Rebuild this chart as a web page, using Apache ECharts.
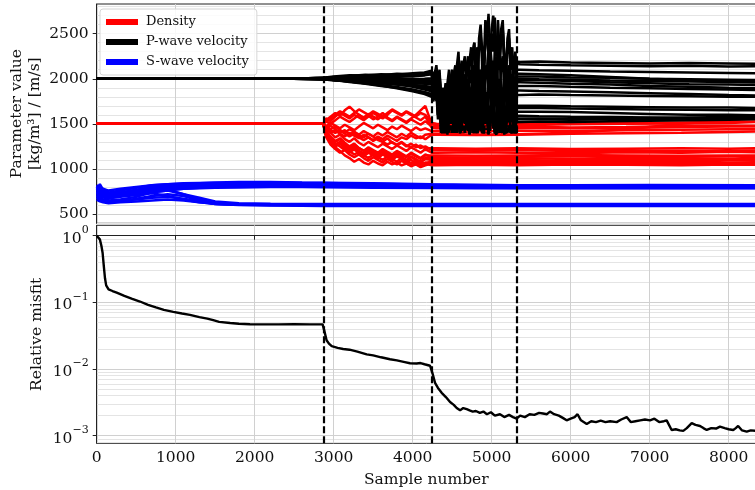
<!DOCTYPE html>
<html><head><meta charset="utf-8">
<script src="https://cdn.jsdelivr.net/npm/echarts@6/dist/echarts.min.js"></script>
<style>html,body{margin:0;padding:0;background:#fff}#c{width:755px;height:490px}</style>
</head><body><div id="c"></div>
<script>
const FONT = '"DejaVu Serif", serif';

// ---- sample positions ----
const rhoX = [0, 2868, 2900, 2960, 3020, 3080, 3140, 3200, 3260, 3320, 3380, 3440, 3500, 3560, 3620, 3680, 3740, 3800, 3860, 3920, 3980, 4040, 4100, 4160, 4240, 4300, 4800, 5320, 6000, 6700, 7400, 8000, 8350];
const vpX = [0, 2490, 2868, 3000, 3200, 3400, 3600, 3800, 4000, 4150, 4240, 4280, 4320, 4360, 4400, 4440, 4480, 4520, 4560, 4600, 4640, 4680, 4720, 4760, 4800, 4840, 4880, 4920, 4960, 5000, 5040, 5080, 5120, 5160, 5200, 5240, 5280, 5320, 5360, 5600, 6000, 6500, 7000, 7500, 8000, 8350];
const vpExtraX = [4260, 4300, 4340, 4380, 4420, 4460, 4500, 4540, 4580, 4620, 4660, 4700, 4740, 4780, 4820, 4860, 4900, 4940, 4980, 5020, 5060, 5100, 5140, 5180, 5220, 5260, 5300];
const vsX = [0, 40, 80, 150, 300, 500, 700, 900, 1100, 1300, 1500, 1800, 2200, 2600, 2868, 3500, 4240, 4800, 5320, 6000, 7000, 8350];

// ---- density chains [kg/m3] ----
const rhoChains = [
 [1500, 1500,1420,1330,1280,1250,1210,1180,1220,1170,1140,1180,1150,1120,1160,1130,1110,1150,1120,1090,1130,1100,1070,1110,1100, 1100,1095,1100,1090,1100,1105,1095,1100],
 [1500, 1500,1460,1400,1350,1380,1330,1300,1340,1290,1260,1300,1270,1240,1280,1250,1220,1260,1230,1200,1240,1210,1180,1220,1180, 1180,1185,1180,1175,1185,1180,1190,1185],
 [1500, 1500,1540,1580,1620,1590,1650,1690,1640,1600,1560,1590,1550,1580,1620,1570,1540,1580,1550,1520,1560,1600,1650,1700,1500, 1480,1490,1485,1495,1500,1505,1510,1520],
 [1500, 1500,1390,1300,1240,1200,1150,1120,1080,1110,1070,1050,1090,1060,1040,1080,1050,1070,1040,1060,1030,1050,1020,1040,1060, 1060,1055,1065,1060,1055,1060,1050,1055],
 [1500, 1500,1450,1480,1440,1400,1430,1380,1410,1370,1350,1390,1360,1320,1300,1340,1290,1270,1300,1260,1240,1270,1230,1250,1210, 1210,1205,1210,1200,1205,1195,1200,1205],
 [1500, 1500,1410,1360,1310,1340,1290,1250,1280,1230,1200,1240,1210,1180,1220,1190,1160,1200,1170,1140,1180,1150,1120,1160,1130, 1130,1125,1135,1140,1130,1135,1140,1130],
 [1500, 1500,1560,1530,1580,1620,1590,1560,1600,1570,1540,1580,1620,1590,1560,1600,1650,1620,1590,1630,1600,1570,1540,1580,1460, 1450,1455,1460,1450,1455,1465,1470,1470],
 [1500, 1500,1380,1290,1250,1280,1230,1200,1160,1190,1150,1120,1160,1130,1100,1140,1110,1080,1120,1090,1060,1100,1070,1050,1090, 1090,1080,1085,1075,1080,1085,1070,1075],
 [1500, 1500,1470,1510,1480,1450,1490,1460,1430,1470,1510,1480,1450,1490,1460,1430,1470,1440,1480,1450,1420,1460,1430,1450,1420, 1420,1415,1425,1420,1430,1435,1440,1440],
 [1500, 1500,1530,1500,1540,1580,1550,1520,1560,1600,1570,1610,1580,1550,1590,1560,1530,1570,1540,1510,1550,1520,1490,1530,1470, 1470,1465,1470,1460,1465,1475,1480,1480],
 [1500, 1500,1480,1440,1470,1430,1400,1440,1410,1380,1420,1390,1360,1400,1370,1410,1380,1350,1390,1360,1400,1370,1340,1380,1390, 1390,1380,1385,1400,1440,1500,1540,1560],
 [1500, 1500,1400,1320,1270,1300,1260,1220,1250,1200,1170,1210,1180,1140,1170,1130,1100,1140,1110,1070,1100,1060,1030,1060,1040, 1040,1045,1040,1050,1045,1040,1050,1045],
 [1500, 1500,1430,1350,1300,1330,1280,1240,1270,1230,1200,1230,1190,1160,1200,1170,1140,1180,1150,1130,1170,1140,1110,1150,1150, 1150,1145,1150,1155,1150,1145,1150,1150],
 [1500, 1500,1520,1560,1600,1640,1610,1580,1620,1660,1630,1600,1640,1610,1580,1620,1660,1630,1600,1640,1610,1580,1620,1600,1510, 1500,1495,1500,1505,1510,1515,1520,1525],
 [1500, 1500,1470,1430,1400,1430,1390,1360,1390,1350,1320,1350,1310,1340,1300,1270,1300,1260,1290,1250,1280,1240,1260,1230,1230, 1230,1225,1230,1220,1225,1230,1225,1230],
 [1500, 1500,1360,1270,1220,1180,1210,1160,1130,1160,1120,1090,1130,1100,1070,1110,1080,1050,1090,1060,1040,1080,1050,1070,1070, 1070,1065,1070,1075,1070,1065,1060,1065],
 [1500, 1500,1450,1400,1430,1390,1360,1400,1370,1340,1380,1350,1320,1360,1330,1370,1340,1310,1350,1330,1370,1340,1360,1330,1380, 1380,1375,1380,1390,1395,1400,1410,1415],
 [1500, 1500,1390,1310,1260,1290,1240,1210,1240,1190,1160,1200,1170,1140,1180,1150,1120,1160,1130,1100,1140,1110,1080,1120,1120, 1120,1115,1120,1110,1115,1120,1110,1115]
];

// ---- P-wave velocity chains [m/s] (on vpX) ----
const vpChains = [
 [2000,2000, 2010,2025,2040,2035,2050,2045,2060,2070,2090, 2080,1900,1650,1800,1550,1900,1700,2000,1600,1850,2100,1800,2250,2050,2450,2300,2650,2720,2500,2680,2400,2550,2200,2350,2000,2250,2190, 2185,2190,2180,2175,2170,2175,2170,2165],
 [2000,2000, 2005,2020,2030,2045,2040,2055,2050,2065,2080, 2070,2000,1750,1500,1850,1650,1450,1800,2050,1700,1950,2200,1900,2100,2350,2150,2400,2250,2550,2400,2650,2450,2250,2450,2100,1900,2165, 2160,2155,2150,2145,2140,2145,2135,2140],
 [2000,2000, 2000,1990,1975,1960,1950,1935,1920,1900,1880, 1870,1750,1500,1400,1650,1850,1550,1420,1700,1950,1600,1450,1750,2000,1700,1500,1850,2100,1800,1550,1900,2150,1850,1600,1950,1750,2055, 2055,2050,2040,2020,2000,1985,1970,1960],
 [2000,2000, 1995,2010,2020,2015,2030,2020,2035,2040,2050, 2040,1850,1600,1750,1950,1700,2000,2150,1850,1600,1900,2100,2300,2000,1800,2200,2450,2250,2000,2350,2150,1850,2100,1800,1950,2200,2025, 2025,2025,2015,2010,2000,1995,1990,1985],
 [2000,2000, 2000,1985,1965,1945,1920,1900,1870,1850,1830, 1820,1600,1400,1550,1750,1450,1380,1650,1500,1800,1550,1400,1700,1900,1600,1420,1750,1550,1850,2050,1700,1500,1800,1600,1400,1750,1990, 1990,1985,1975,1960,1950,1940,1935,1930],
 [2000,2000, 2010,2000,1990,1985,1980,1970,1960,1955,1950, 1940,1700,1550,1850,1650,1420,1700,1950,1750,1500,1400,1650,1850,1550,1800,2000,1750,1500,1700,1950,1650,1450,1700,1900,1650,1500,1960, 1960,1955,1945,1935,1920,1910,1900,1895],
 [2000,2000, 1990,1995,1985,1990,1975,1980,1970,1965,1960, 1950,1900,1700,1450,1600,1850,2050,1800,1550,1400,1700,1500,1900,2100,1850,1650,1450,1700,2000,1800,1550,1750,2000,1700,1450,1650,1920, 1920,1920,1910,1900,1895,1885,1880,1875],
 [2000,2000, 2000,1990,1970,1950,1925,1895,1860,1830,1800, 1780,1550,1380,1450,1650,1400,1600,1850,1550,1380,1500,1750,1450,1650,1900,1600,1400,1550,1800,1500,1380,1650,1450,1700,1500,1380,1820, 1820,1825,1820,1815,1810,1805,1800,1800],
 [2000,2000, 2005,2015,2010,2025,2015,2030,2025,2040,2060, 2050,1950,1800,1600,1450,1700,1500,1400,1650,1900,1700,1800,1550,1420,1650,1850,2050,1800,1600,1400,1550,1800,1600,1400,1550,1750,1675, 1675,1675,1670,1665,1660,1655,1650,1650],
 [2000,2000, 1995,1980,1975,1960,1955,1940,1930,1920,1910, 1900,1650,1450,1700,1900,1600,1800,1550,1400,1600,1850,1650,1450,1700,1500,1380,1600,1400,1650,1900,1600,1420,1650,1850,1600,1400,1635, 1635,1635,1630,1620,1610,1600,1600,1595],
 [2000,2000, 2000,2005,2000,2010,2000,2005,1995,2000,2005, 2000,1800,1550,1400,1600,1500,1750,1950,1700,1500,1650,1400,1550,1800,2000,1750,1550,1400,1600,1450,1700,1500,1380,1550,1750,1450,1590, 1590,1585,1580,1575,1570,1565,1560,1560],
 [2000,2000, 2010,2000,1985,1970,1960,1940,1910,1880,1860, 1850,1700,1450,1380,1550,1750,1500,1650,1400,1550,1800,1600,1400,1500,1700,1450,1600,1850,1550,1380,1500,1700,1450,1600,1400,1500,1550, 1550,1550,1545,1550,1555,1560,1565,1565],
 [2000,2000, 2000,2010,2025,2030,2040,2040,2050,2060,2075, 2060,1950,1700,1500,1750,2000,1800,1550,1900,2150,1850,1600,2000,2250,1950,1700,2100,2350,2050,1800,2200,2450,2100,1850,2250,2000,2100, 2100,2095,2090,2080,2075,2070,2065,2060],
 [2000,2000, 2000,1995,1985,1970,1955,1945,1930,1915,1900, 1890,1700,1450,1600,1400,1650,1900,1600,1400,1700,1500,1380,1650,1850,1550,1400,1700,1950,1600,1450,1800,1550,1400,1650,1850,1550,1870, 1870,1865,1860,1850,1840,1830,1820,1815],
 [2000,2000, 2000,2005,1995,2000,1990,1995,1985,1990,1980, 1970,1800,1550,1420,1600,1850,1650,1450,1380,1600,1800,1550,1400,1650,1900,1700,1500,1380,1550,1750,1500,1400,1600,1800,1550,1420,1700, 1700,1700,1695,1690,1685,1680,1680,1675],
 [2000,2000, 2000,2015,2020,2030,2025,2035,2030,2045,2055, 2045,1850,1600,1450,1700,1500,1400,1650,1950,1700,1500,1800,2050,1750,1500,1900,2150,2350,2100,1800,1550,1700,1450,1650,1420,1600,1560, 1560,1560,1555,1560,1565,1570,1575,1580],
 [2000,2000, 2000,1990,1980,1975,1965,1960,1950,1945,1940, 1930,1750,1500,1400,1600,1800,2000,1750,1500,1850,2100,1800,1550,1400,1700,1950,1700,1500,1850,2150,1900,1600,1850,2050,1750,1500,2000, 2000,1995,1990,1980,1975,1970,1965,1960],
 [2000,2000, 2000,1985,1970,1950,1930,1910,1880,1850,1820, 1810,1600,1400,1550,1380,1600,1850,1550,1400,1650,1450,1380,1600,1400,1550,1800,1500,1380,1600,1420,1650,1450,1380,1550,1400,1450,1520, 1520,1525,1520,1530,1535,1540,1545,1550]
];
// extra P-wave samples in the unstable stage (on vpExtraX)
const vpExtraChains = [
 [2000,1750,2000,1500,1950,1420,2100,1550,2150,1450,1700,2250,1650,2400,1900,2600,2150,2450,2350,2300,2250,2200,2650,2050,2450,1850,2050],
 [1980,2100,2100,1900,1400,2000,1800,1400,1650,2200,1550,1800,2350,1750,1950,2500,2000,2550,2100,2700,2250,2300,2550,2100,2550,2250,1750],
 [1800,1900,1850,1650,1380,1500,1950,1700,1400,1550,2050,1750,1400,1600,2100,1850,1400,1700,2200,1950,1420,1750,2250,2000,1450,2050,1600],
 [1950,2100,1950,1450,1600,2100,1550,1850,2300,2000,1450,1750,1950,2400,2150,1650,2050,2550,2400,1850,2450,2300,1700,2250,1650,1800,2300],
 [1900,1950,1700,1380,1450,1850,1600,1380,1750,1420,1900,1650,1380,1550,2000,1700,1380,1850,1450,1700,2150,1800,1400,1900,1700,1380,1600],
 [1880,2000,1800,1450,1950,1750,1380,1600,2050,1850,1600,1380,1550,1950,1450,1700,2100,1850,1400,1600,2050,1750,1380,1600,2000,1750,1420],
 [2000,1800,2000,1800,1380,1500,1750,2150,1900,1650,1380,1800,1420,1800,2200,1950,1750,1380,1600,2100,1900,1450,1650,2100,1800,1380,1550],
 [1850,1850,1650,1550,1380,1750,1380,1500,1950,1650,1600,1420,1850,1380,1550,2000,1700,1650,1450,1900,1600,1380,1750,1400,1800,1600,1500],
 [1950,2100,2050,1900,1700,1380,1800,1600,1380,1550,2000,1600,1900,1650,1380,1550,1750,2150,1900,1700,1380,1450,1900,1700,1380,1450,1850],
 [1820,2000,1750,1380,1550,2000,1450,1900,1650,1380,1500,1950,1750,1380,1800,1600,1700,1750,1380,1550,2000,1700,1380,1550,1950,1700,1380],
 [2050,2100,1900,1650,1380,1700,1400,1650,2050,1800,1400,1750,1380,1450,1700,2100,1850,1650,1380,1700,1380,1800,1600,1650,1450,1850,1380],
 [1780,1950,1800,1600,1650,1420,1850,1400,1750,1380,1450,1900,1700,1380,1400,1800,1380,1500,1950,1650,1600,1400,1800,1380,1700,1600,1420],
 [1980,2150,2050,1850,1420,1650,2100,1950,1450,1800,2250,2000,1500,1900,2350,2100,1600,2000,2450,2200,1700,2100,2550,2250,1750,2350,1900],
 [1820,1980,1800,1380,1700,1380,1550,2000,1700,1380,1800,1600,1750,1550,1950,1650,1380,1600,2050,1700,1380,1900,1650,1380,1550,1950,1450],
 [1900,2050,1900,1650,1380,1500,1950,1750,1600,1700,1500,1900,1650,1380,1550,2000,1800,1600,1650,1450,1850,1600,1380,1500,1900,1650,1380],
 [1950,2100,1950,1700,1380,1800,1650,1380,1550,2050,1800,1420,1700,2150,1850,1420,1800,2050,2450,2200,1900,1450,1800,1380,1750,1380,1700],
 [1870,2000,1850,1650,1380,1500,1700,2100,1850,1420,1750,2200,1900,1650,1380,1600,2050,1800,1420,1750,2250,2000,1500,1750,2150,1850,1420],
 [1750,1900,1700,1380,1650,1700,1500,1950,1650,1380,1750,1550,1700,1700,1380,1450,1900,1600,1700,1700,1380,1750,1550,1650,1650,1380,1600]
];

// ---- S-wave velocity chains [m/s] ----
const vsChains = [
 [780,830,770,740,760,790,820,830,835,840,845,840,850,845,845,835,825,815,810,810,812,810],
 [720,690,660,650,660,690,740,760,720,660,620,610,605,600,600,600,602,600,600,601,600,600],
 [800,760,720,700,720,750,780,790,800,805,810,815,820,825,820,815,805,800,795,795,797,795],
 [760,800,780,760,780,800,820,830,840,845,850,855,855,850,848,840,830,825,820,820,822,820],
 [680,650,640,630,640,670,700,720,700,650,610,600,595,592,590,590,591,590,590,590,591,590],
 [740,710,690,680,700,720,740,760,780,790,800,810,815,820,818,812,808,806,805,805,806,805],
 [700,680,660,670,700,730,760,770,780,785,790,795,800,800,798,792,788,786,785,785,786,785],
 [780,760,720,700,720,760,790,770,720,680,640,620,615,612,610,610,610,610,610,611,610,610],
 [720,740,700,690,710,740,770,790,800,810,815,820,825,822,820,815,808,802,800,800,801,800],
 [810,780,740,720,740,770,800,810,820,830,835,840,840,838,836,830,822,818,815,815,816,815],
 [660,640,630,620,630,640,650,660,650,630,615,605,600,597,596,595,595,595,595,596,595,595],
 [820,790,750,730,740,760,780,785,790,795,800,805,810,812,810,805,798,793,790,790,791,790],
 [790,770,740,720,735,760,790,805,815,825,830,835,838,836,834,828,820,815,812,812,813,812],
 [750,720,690,680,690,710,730,700,660,630,615,608,606,605,605,605,606,605,605,605,606,605],
 [700,720,690,690,715,745,775,790,800,808,815,818,822,820,818,812,805,800,798,798,799,798],
 [760,740,710,700,720,750,780,795,805,815,825,830,835,835,832,825,815,810,808,808,809,808],
 [700,670,650,640,650,660,680,690,670,640,612,603,600,599,598,598,598,598,598,598,599,598],
 [770,750,720,710,725,750,775,785,792,798,803,808,812,812,810,803,795,790,788,788,789,788]
];

// ---- relative misfit ----
const misfitX = [0,20,40,60,75,90,105,120,150,200,253,350,450,548,650,750,850,970,1080,1180,1300,1400,1475,1550,1690,1800,1940,2100,2300,2500,2700,2860,2880,2910,2940,2975,3050,3120,3200,3300,3418,3500,3600,3713,3800,3900,3966,4050,4100,4150,4220,4250,4283,4320,4367,4420,4473,4520,4557,4600,4640,4684,4720,4760,4800,4850,4895,4940,4990,5040,5105,5160,5220,5270,5316,5360,5420,5480,5540,5600,5650,5700,5738,5790,5850,5900,5949,6000,6050,6087,6130,6203,6260,6320,6380,6440,6500,6582,6640,6709,6760,6820,6880,6940,7004,7060,7120,7180,7215,7278,7330,7380,7425,7470,7532,7580,7637,7680,7722,7780,7840,7890,7950,8000,8058,8090,8120,8170,8228,8280,8350];
const misfitY = [1.0,0.99,0.88,0.70,0.55,0.35,0.23,0.18,0.157,0.148,0.14,0.125,0.113,0.103,0.092,0.084,0.077,0.072,0.068,0.065,0.060,0.057,0.054,0.051,0.049,0.0478,0.047,0.0468,0.0468,0.047,0.0467,0.0467,0.038,0.027,0.024,0.022,0.0208,0.020,0.0195,0.0182,0.0166,0.0160,0.0150,0.0140,0.0135,0.0127,0.0122,0.0121,0.0123,0.0118,0.0112,0.0087,0.0062,0.0052,0.0044,0.0038,0.0032,0.0029,0.0026,0.0024,0.0026,0.0025,0.0024,0.0023,0.00235,0.0022,0.0023,0.0021,0.00225,0.0020,0.0021,0.0019,0.00205,0.0019,0.0018,0.0020,0.0019,0.0021,0.00205,0.0022,0.00215,0.0021,0.0023,0.0021,0.0020,0.00185,0.0017,0.0018,0.0019,0.0021,0.0017,0.0015,0.00165,0.0016,0.00168,0.0016,0.00165,0.0016,0.00175,0.0019,0.0016,0.00165,0.0017,0.00175,0.0017,0.0018,0.0016,0.00165,0.0017,0.00122,0.00125,0.0012,0.00118,0.0013,0.00154,0.00145,0.0014,0.0013,0.00122,0.0013,0.00128,0.00137,0.0013,0.00125,0.00122,0.0013,0.0014,0.0012,0.00115,0.0012,0.00118];

// ---- stage boundaries (dashed lines) ----
const stageBounds = [2868, 4240, 5322];

// ---- ticks ----
const topMajorTicks = [500, 1000, 1500, 2000, 2500];
const topMinorTicks = [400, 600, 700, 800, 900, 1100, 1200, 1300, 1400, 1600, 1700, 1800, 1900, 2100, 2200, 2300, 2400, 2600, 2700, 2800];
const misfitDecades = [0.001, 0.01, 0.1, 1];
const misfitMinorMultipliers = [2, 3, 4, 5, 6, 7, 8, 9];
const misfitMinorDecades = [0.0001, 0.001, 0.01, 0.1, 1];

const X_MAX = 8346;
const TOP_MIN = 397, TOP_MAX = 2829;
const LOG_MIN = -3.114, LOG_MAX = 0.156;

const decadeLog = misfitDecades.map(v => Math.round(Math.log10(v)));
const minorLog = [];
misfitMinorDecades.forEach(d => misfitMinorMultipliers.forEach(k => {
  const v = Math.log10(k * d);
  if (v > LOG_MIN && v < LOG_MAX) minorLog.push(v);
}));

const pairs = (xs, ys) => xs.map((x, i) => [x, ys[i]]);
const TXT = '#111';
const MAJ = '#d0d0d0', MIN = '#e4e4e4';
const LW = 2.5;

const series = [];
for (let i = 0; i < rhoChains.length; i++) {
  const vpPts = pairs(vpX, vpChains[i]).concat(pairs(vpExtraX, vpExtraChains[i])).sort((a, b) => a[0] - b[0]);
  series.push({type: 'line', name: 'Density', xAxisIndex: 0, yAxisIndex: 0, data: pairs(rhoX, rhoChains[i]),
    showSymbol: false, symbol: 'none', silent: true, itemStyle: {color: '#ff0000'}, lineStyle: {color: '#ff0000', width: LW}});
  series.push({type: 'line', name: 'P-wave velocity', xAxisIndex: 0, yAxisIndex: 0, data: vpPts,
    showSymbol: false, symbol: 'none', silent: true, itemStyle: {color: '#000000'}, lineStyle: {color: '#000000', width: LW}});
  series.push({type: 'line', name: 'S-wave velocity', xAxisIndex: 0, yAxisIndex: 0, data: pairs(vsX, vsChains[i]),
    showSymbol: false, symbol: 'none', silent: true, itemStyle: {color: '#0000ff'}, lineStyle: {color: '#0000ff', width: LW}});
}
const dashed = {
  silent: true, symbol: ['none', 'none'], label: {show: false},
  lineStyle: {color: '#000', width: 2.2, type: [7, 3]},
  data: stageBounds.map(x => ({xAxis: x}))
};
series.push({type: 'line', name: 'bounds', xAxisIndex: 0, yAxisIndex: 0, data: [[0, 1000]], showSymbol: false, symbol: 'none',
  lineStyle: {opacity: 0}, z: 10, markLine: dashed});
series.push({type: 'line', name: 'Relative misfit', xAxisIndex: 1, yAxisIndex: 2,
  data: misfitX.map((x, i) => [x, Math.log10(misfitY[i])]),
  showSymbol: false, symbol: 'none', silent: true, itemStyle: {color: '#000'}, lineStyle: {color: '#000', width: 2.4},
  z: 10, markLine: dashed});

const supFmt = v => {
  const e = Math.round(v);
  return '{b|10}{s|' + (e < 0 ? '\u2212' + (-e) : String(e)) + '}';
};
const plain = v => String(Math.round(v));

const option = {
  animation: false,
  backgroundColor: '#ffffff',
  textStyle: {fontFamily: FONT},
  legend: {
    left: 100, top: 9, orient: 'vertical', icon: 'rect', itemWidth: 32, itemHeight: 6, itemGap: 6,
    padding: [6, 8, 6, 6], selectedMode: false,
    backgroundColor: 'rgba(255,255,255,0.85)', borderColor: '#d6d6d6', borderWidth: 1, borderRadius: 3,
    textStyle: {fontFamily: FONT, fontSize: 13, color: TXT, lineHeight: 14, padding: [0, 0, 0, 3]},
    data: ['Density', 'P-wave velocity', 'S-wave velocity']
  },
  grid: [
    {left: 96.7, right: -1, top: 4, height: 219.3, show: true, borderColor: '#222', borderWidth: 1, backgroundColor: 'transparent',
      containLabel: false, outerBoundsMode: 'none'},
    {left: 96.7, right: -1, top: 225.3, height: 218, show: true, borderColor: '#222', borderWidth: 1, backgroundColor: 'transparent',
      containLabel: false, outerBoundsMode: 'none'}
  ],
  xAxis: [
    {gridIndex: 0, type: 'value', min: 0, max: X_MAX, interval: 1000,
      axisLine: {show: false}, axisTick: {show: false}, axisLabel: {show: false},
      splitLine: {show: true, lineStyle: {color: MAJ, width: 1}}},
    {gridIndex: 1, type: 'value', min: 0, max: X_MAX, interval: 1000,
      axisLine: {show: true, lineStyle: {color: '#222'}},
      axisTick: {show: true, length: 4, lineStyle: {color: '#222'}},
      axisLabel: {show: true, fontFamily: FONT, fontSize: 15.5, color: TXT, margin: 7, showMaxLabel: false, formatter: plain},
      splitLine: {show: true, lineStyle: {color: MAJ, width: 1}},
      name: 'Sample number', nameLocation: 'middle', nameGap: 28, nameMoveOverlap: false,
      nameTextStyle: {fontFamily: FONT, fontSize: 15.5, color: TXT, lineHeight: 18}}
  ],
  yAxis: [
    {gridIndex: 0, type: 'value', min: TOP_MIN, max: TOP_MAX,
      axisLine: {show: true, lineStyle: {color: '#222'}},
      axisTick: {show: true, length: 4, lineStyle: {color: '#222'}, customValues: topMajorTicks},
      axisLabel: {show: true, fontFamily: FONT, fontSize: 15.5, color: TXT, margin: 8, customValues: topMajorTicks, formatter: plain},
      splitLine: {show: true, lineStyle: {color: MAJ, width: 1}},
      name: 'Parameter value\n[kg/m\u00b3] / [m/s]', nameLocation: 'middle', nameGap: 53, nameMoveOverlap: false,
      nameTextStyle: {fontFamily: FONT, fontSize: 15.5, color: TXT, lineHeight: 18}},
    {gridIndex: 0, type: 'value', min: TOP_MIN, max: TOP_MAX,
      axisLine: {show: false}, axisLabel: {show: false},
      axisTick: {show: true, length: 2.5, lineStyle: {color: '#222'}, customValues: topMinorTicks},
      splitLine: {show: true, lineStyle: {color: MIN, width: 1}}},
    {gridIndex: 1, type: 'value', min: LOG_MIN, max: LOG_MAX,
      axisLine: {show: true, lineStyle: {color: '#222'}},
      axisTick: {show: true, length: 4, lineStyle: {color: '#222'}, customValues: decadeLog},
      axisLabel: {show: true, margin: 8, customValues: decadeLog, formatter: supFmt,
        rich: {
          b: {fontFamily: FONT, fontSize: 15.5, color: TXT, lineHeight: 22, verticalAlign: 'bottom'},
          s: {fontFamily: FONT, fontSize: 11, color: TXT, lineHeight: 12, verticalAlign: 'top'}
        }},
      splitLine: {show: true, lineStyle: {color: MAJ, width: 1}},
      name: 'Relative misfit', nameLocation: 'middle', nameGap: 51, nameMoveOverlap: false,
      nameTextStyle: {fontFamily: FONT, fontSize: 15.5, color: TXT, lineHeight: 18}},
    {gridIndex: 1, type: 'value', min: LOG_MIN, max: LOG_MAX,
      axisLine: {show: false}, axisLabel: {show: false},
      axisTick: {show: true, length: 2.5, lineStyle: {color: '#222'}, customValues: minorLog},
      splitLine: {show: true, lineStyle: {color: MIN, width: 1}}}
  ],
  series: series
};

const chart = echarts.init(document.getElementById('c'), null, {renderer: 'canvas'});
chart.setOption(option);
</script></body></html>
